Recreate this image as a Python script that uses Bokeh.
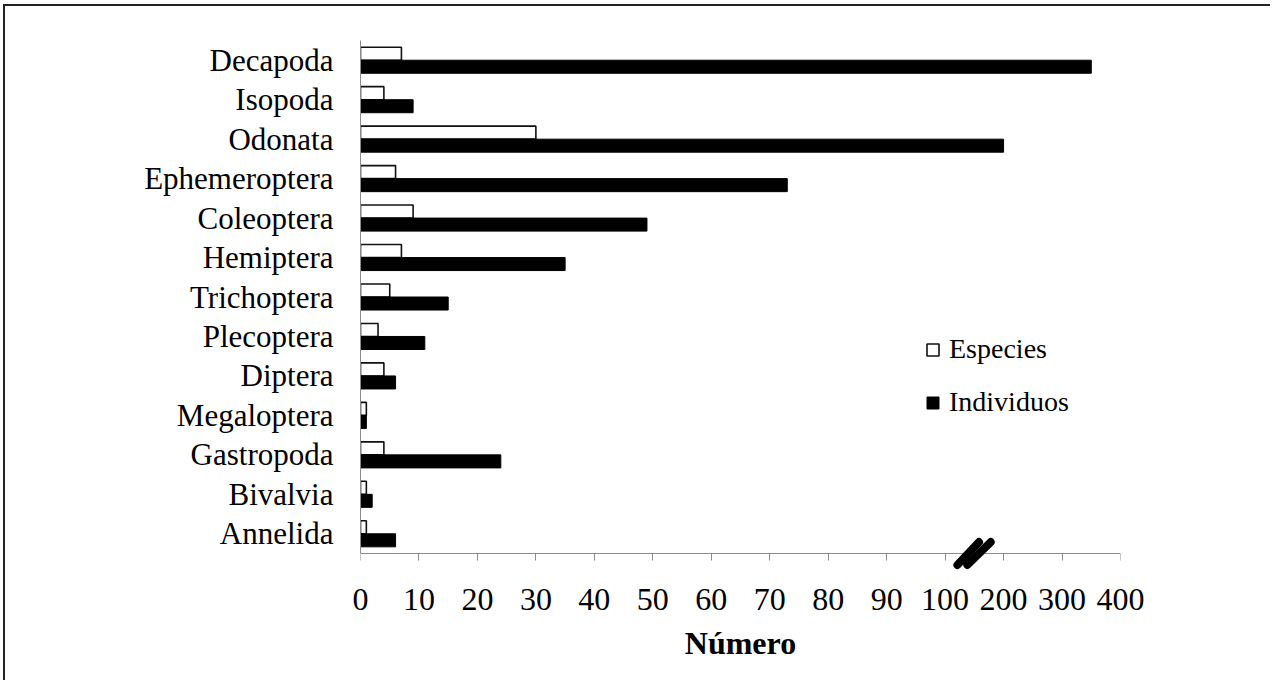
from bokeh.plotting import figure
from bokeh.models import (Range1d, FixedTicker, Legend, LegendItem, ColumnDataSource,
                          LinearAxis)
from bokeh.transform import dodge
from bokeh.embed import file_html
from bokeh.resources import INLINE

categories = ["Decapoda", "Isopoda", "Odonata", "Ephemeroptera", "Coleoptera",
              "Hemiptera", "Trichoptera", "Plecoptera", "Diptera", "Megaloptera",
              "Gastropoda", "Bivalvia", "Annelida"]
especies = [7, 4, 30, 6, 9, 7, 5, 3, 4, 1, 4, 1, 1]
individuos = [350, 9, 200, 73, 49, 35, 15, 11, 6, 1, 24, 2, 6]
tick_values = [0, 10, 20, 30, 40, 50, 60, 70, 80, 90, 100, 200, 300, 400]

BREAK = 100      # axis is broken after this value
COMPRESS = 10    # above the break, 100 units take the room of 10


def scale(v):
    return v if v <= BREAK else BREAK + (v - BREAK) / COMPRESS


FONT = "Liberation Serif"
n = len(categories)
ypos = [n - 1 - i for i in range(n)]   # first category on top

src = ColumnDataSource(dict(
    y=ypos,
    esp=[scale(v) for v in especies],
    ind=[scale(v) for v in individuos],
))

p = figure(
    y_range=Range1d(-0.93, n - 0.5),
    x_range=Range1d(0, scale(tick_values[-1])),
    frame_width=760, frame_height=530,
    min_border_left=355, min_border_right=150,
    min_border_top=34, min_border_bottom=110,
    output_backend="svg", toolbar_location=None,
    background_fill_color="white", border_fill_color="white",
)
p.styles = {"border-left": "2px solid #222222", "border-top": "2px solid #222222",
            "margin-left": "3px", "margin-top": "4px"}
p.outline_line_color = None
p.xgrid.visible = False
p.ygrid.visible = False

r_esp = p.hbar(y=dodge("y", 0.165), right="esp", left=0,
               height=0.33, source=src, fill_color="white",
               line_color="#111111", line_width=1.6)
r_ind = p.hbar(y=dodge("y", -0.165), right="ind", left=0,
               height=0.33, source=src, fill_color="black",
               line_color="black", line_width=1)

# x axis with broken scale
tick_pos = [scale(t) for t in tick_values]
tick_pos = [int(t) if float(t).is_integer() else t for t in tick_pos]
overrides = {tp: str(t) for tp, t in zip(tick_pos, tick_values)}

# labels + title (frame bottom)
xa = p.xaxis[0]
xa.ticker = FixedTicker(ticks=tick_pos)
xa.major_label_overrides = overrides
xa.axis_line_color = None
xa.major_tick_line_color = None
xa.minor_tick_line_color = None
xa.major_tick_in = 0
xa.major_tick_out = 0
xa.major_label_text_font = FONT
xa.major_label_text_font_size = "32px"
xa.major_label_text_color = "black"
xa.major_label_standoff = 18
xa.axis_label = "Número"
xa.axis_label_text_font = FONT
xa.axis_label_text_font_style = "bold"
xa.axis_label_text_font_size = "32px"
xa.axis_label_text_color = "black"
xa.axis_label_standoff = 12

# axis line + ticks at the bottom of the category bands
xline = LinearAxis(fixed_location=-0.5, ticker=FixedTicker(ticks=tick_pos),
                   axis_line_color="#8c8c8c", major_tick_line_color="#8c8c8c",
                   minor_tick_line_color=None, major_tick_in=0, major_tick_out=7,
                   major_label_text_color=None, major_label_text_font_size="1px")
p.add_layout(xline, "below")

ya = p.yaxis[0]
ya.ticker = FixedTicker(ticks=ypos)
ya.major_label_overrides = {y: c for y, c in zip(ypos, categories)}
ya.bounds = (-0.5, n - 0.5)
ya.axis_line_color = "#8c8c8c"
ya.major_tick_line_color = None
ya.minor_tick_line_color = None
ya.major_label_text_font = FONT
ya.major_label_text_font_size = "31px"
ya.major_label_text_color = "black"
ya.major_label_standoff = 21

# axis break marks
p.segment(x0=[102.1, 103.8], y0=[-0.79, -0.79], x1=[105.8, 107.8], y1=[-0.21, -0.21],
          line_width=8, line_color="black", line_cap="round", level="overlay")

legend = Legend(
    items=[LegendItem(label="Especies", renderers=[r_esp]),
           LegendItem(label="Individuos", renderers=[r_ind])],
    location=(565, 152),
    glyph_width=15, glyph_height=15, label_standoff=9, spacing=21,
    padding=0, margin=0, border_line_color=None, background_fill_alpha=0,
    label_text_font=FONT, label_text_font_size="28px", label_text_color="black",
)
p.add_layout(legend)

open("out.html", "w").write(file_html(p, INLINE))
